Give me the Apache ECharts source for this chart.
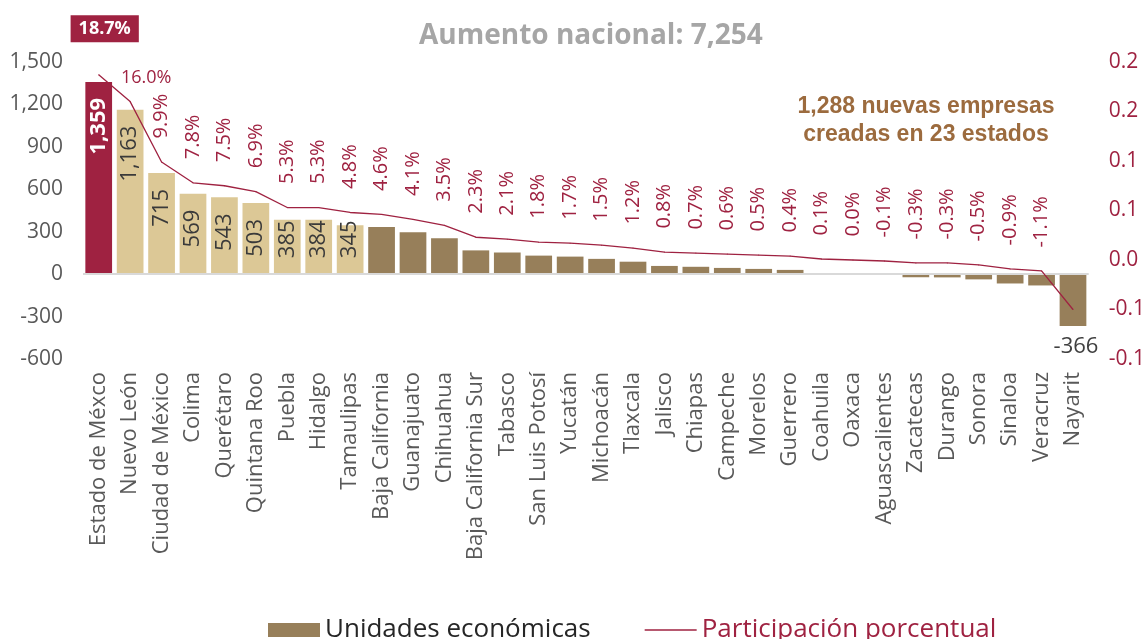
<!DOCTYPE html>
<html>
<head>
<meta charset="utf-8">
<script src="https://cdn.jsdelivr.net/npm/echarts@6/dist/echarts.min.js"></script>
<style>html,body{margin:0;padding:0;background:#fff;}#chart{width:1148px;height:639px;}</style>
</head>
<body>
<div id="chart"></div>
<script>
var categories = ["Estado de Méxco","Nuevo León","Ciudad de México","Colima","Querétaro","Quintana Roo","Puebla","Hidalgo","Tamaulipas","Baja California","Guanajuato","Chihuahua","Baja California Sur","Tabasco","San Luis Potosí","Yucatán","Michoacán","Tlaxcala","Jalisco","Chiapas","Campeche","Morelos","Guerrero","Coahuila","Oaxaca","Aguascalientes","Zacatecas","Durango","Sonora","Sinaloa","Veracruz","Nayarit"];
var unidades = [1359,1163,715,569,543,503,385,384,345,334,297,254,168,153,131,124,108,88,58,52,44,37,30,8,2,-6,-22,-23,-37,-66,-80,-366];
var participacion = [0.187,0.160,0.099,0.078,0.075,0.069,0.053,0.053,0.048,0.046,0.041,0.035,0.023,0.021,0.018,0.017,0.015,0.012,0.008,0.007,0.006,0.005,0.004,0.001,0.000,-0.001,-0.003,-0.003,-0.005,-0.009,-0.011,-0.050];
var leftTicks = {min:-600, max:1500, interval:300};
var rightTicks = {min:-0.1, max:0.2, interval:0.05};
var titleText = "Aumento nacional: 7,254";
var noteText = "1,288 nuevas empresas\ncreadas en 23 estados";

var FONT = "Open Sans";
var CRIMSON = "#9F2241", TAN = "#DCC896", BROWN = "#977F5A";

function fmtThousands(v){ return Math.round(v).toLocaleString('en-US'); }
function fmtOneDec(v){ var s = Math.sign(v); var r = s*Math.round(Math.abs(v)*10+1e-9)/10; return r.toFixed(1); }
function fmtPct(p){ return (p.value*100).toFixed(1)+'%'; }
function fmtBar(p){ return fmtThousands(p.value); }

var barData = unidades.map(function(v,i){
  var color = i===0 ? CRIMSON : (i<=8 ? TAN : BROWN);
  var item = {value:v, itemStyle:{color:color}};
  if(i===0){
    item.label = {show:true, position:'insideTop', rotate:90, align:'right', verticalAlign:'middle', distance:16,
      color:'#fff', fontWeight:'bold', fontSize:22, fontFamily:FONT, formatter:fmtBar};
  } else if(i<=5){
    item.label = {show:true, position:'insideTop', rotate:90, align:'right', verticalAlign:'middle', distance:16,
      color:'#3a3a3a', fontSize:22, fontFamily:FONT, formatter:fmtBar};
  } else if(i<=8){
    item.label = {show:true, position:'insideBottom', rotate:90, align:'left', verticalAlign:'middle', distance:16,
      color:'#3a3a3a', fontSize:22, fontFamily:FONT, formatter:fmtBar};
  } else if(i===unidades.length-1){
    item.label = {show:true, position:'bottom', distance:10, offset:[3,0], color:'#404040', fontSize:22, fontFamily:FONT,
      formatter:fmtBar};
  }
  return item;
});

var lineData = participacion.map(function(v,i){
  var item = {value:v};
  if(i===0){
    item.label = {show:true, position:'top', distance:32, offset:[6,0], rotate:0, align:'center', verticalAlign:'bottom',
      backgroundColor:CRIMSON, color:'#fff', fontWeight:'bold', fontSize:18, padding:[5,8,4,8], fontFamily:FONT,
      formatter:fmtPct};
  } else if(i===1){
    item.label = {show:true, position:'top', distance:14, offset:[16,0], rotate:0, align:'center', verticalAlign:'bottom',
      color:CRIMSON, fontSize:18, fontFamily:FONT, formatter:fmtPct};
  } else if(i===participacion.length-1){
    item.label = {show:false};
  }
  return item;
});

var chart = echarts.init(document.getElementById('chart'));
chart.setOption({
  animation:false,
  textStyle:{fontFamily:FONT},
  title:[
    {text:titleText, left:414, top:17, textStyle:{color:'#A6A6A6', fontSize:28, fontWeight:'bold', fontFamily:FONT}},
    {text:noteText, left:921, top:88, textAlign:'center', textStyle:{color:'#9C6B3E', fontSize:23, fontWeight:'bold', fontFamily:'Liberation Sans', lineHeight:28, align:'center'}}
  ],
  legend:{
    bottom:-9, left:263, itemWidth:52, itemHeight:14, itemGap:54,
    textStyle:{fontSize:26, fontFamily:FONT},
    data:[
      {name:'Unidades económicas', icon:'rect', itemStyle:{color:BROWN}, textStyle:{color:'#262626'}},
      {name:'Participación porcentual', icon:'path://M0,0 L52,0 L52,1.3 L0,1.3 Z', itemStyle:{color:CRIMSON, opacity:1}, textStyle:{color:CRIMSON}}
    ]
  },
  grid:{left:83, right:55, top:62, bottom:280},
  xAxis:{
    type:'category', data:categories,
    axisLine:{show:false, onZero:false}, axisTick:{show:false},
    axisLabel:{rotate:90, interval:0, margin:13, color:'#595959', fontSize:22, fontFamily:FONT}
  },
  yAxis:[
    {type:'value', min:leftTicks.min, max:leftTicks.max, interval:leftTicks.interval,
     splitLine:{show:false}, axisLine:{show:false}, axisTick:{show:false},
     axisLabel:{margin:20, color:'#595959', fontSize:21, fontFamily:FONT, formatter:fmtThousands}},
    {type:'value', min:rightTicks.min, max:rightTicks.max, interval:rightTicks.interval, position:'right',
     splitLine:{show:false}, axisLine:{show:false}, axisTick:{show:false},
     axisLabel:{margin:20, color:CRIMSON, fontSize:21, fontFamily:FONT, formatter:fmtOneDec}}
  ],
  series:[
    {name:'Unidades económicas', type:'bar', data:barData, barCategoryGap:'15%', yAxisIndex:0,
     itemStyle:{color:BROWN},
     markLine:{silent:true, symbol:'none', label:{show:false}, lineStyle:{color:'#D9D9D9', width:2, type:'solid'}, data:[{yAxis:0}]}},
    {name:'Participación porcentual', type:'line', data:lineData, yAxisIndex:1,
     symbol:'circle', symbolSize:1, showSymbol:true,
     lineStyle:{color:CRIMSON, width:1.3}, itemStyle:{color:CRIMSON}, z:5,
     label:{show:true, position:'top', rotate:90, align:'left', verticalAlign:'middle', distance:23,
       color:CRIMSON, fontSize:20, fontFamily:FONT, formatter:fmtPct}}
  ]
});
</script>
</body>
</html>
